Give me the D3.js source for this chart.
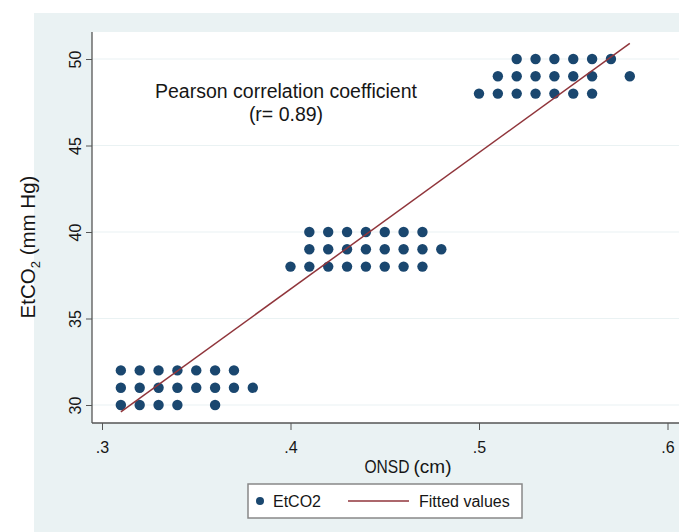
<!DOCTYPE html>
<html>
<head>
<meta charset="utf-8">
<script src="https://cdn.jsdelivr.net/npm/d3@7"></script>
<style>
  body { margin: 0; background: #fff; }
  svg { display: block; font-family: 'Liberation Sans', Arial, sans-serif; }
</style>
</head>
<body>
<svg id="chart"></svg>
<script>
// data
const etco2Rows = [30, 31, 32, 38, 39, 40, 48, 49, 50];
const onsdByRow = [
  [0.31, 0.32, 0.33, 0.34, 0.36],
  [0.31, 0.32, 0.33, 0.34, 0.35, 0.36, 0.37, 0.38],
  [0.31, 0.32, 0.33, 0.34, 0.35, 0.36, 0.37],
  [0.40, 0.41, 0.42, 0.43, 0.44, 0.45, 0.46, 0.47],
  [0.41, 0.42, 0.43, 0.44, 0.45, 0.46, 0.47, 0.48],
  [0.41, 0.42, 0.43, 0.44, 0.45, 0.46, 0.47],
  [0.50, 0.51, 0.52, 0.53, 0.54, 0.55, 0.56],
  [0.51, 0.52, 0.53, 0.54, 0.55, 0.56, 0.58],
  [0.52, 0.53, 0.54, 0.55, 0.56, 0.57]
];
const fitOnsd = [0.31, 0.58];
const fitEtco2 = [29.6, 50.9];
const xTicks = [0.3, 0.4, 0.5, 0.6];
const yTicks = [30, 35, 40, 45, 50];

let width = 679;
let height = 532;
const navy = '#1a476f';
const maroon = '#90353b';
const bg = '#eaf2f3';
const ink = '#161616';

// plot box
let plotLeft = 92, plotRight = 679, plotTop = 32, plotBottom = 423;

const svg = d3.select('#chart').attr('width', width).attr('height', height);

let points = [];
etco2Rows.forEach((y, i) => {
  onsdByRow[i].forEach(x => points.push({ x: x, y: y }));
});

const xScale = d3.scaleLinear().domain([0.3, 0.6]).range([102, 667.5]);
const yScale = d3.scaleLinear().domain([30, 50]).range([405, 59]);

// backgrounds
svg.append('rect').attr('x', 34).attr('y', 13).attr('width', width - 34).attr('height', height - 13).attr('fill', bg);
svg.append('rect').attr('x', plotLeft).attr('y', plotTop)
  .attr('width', plotRight - plotLeft).attr('height', plotBottom - plotTop).attr('fill', '#fff');

// gridlines
svg.append('g').selectAll('line').data(yTicks).enter().append('line')
  .attr('x1', plotLeft).attr('x2', plotRight)
  .attr('y1', d => yScale(d)).attr('y2', d => yScale(d))
  .attr('stroke', bg).attr('stroke-width', 1.2);

// axes
const xAxis = d3.axisBottom(xScale).tickValues(xTicks).tickSize(7)
  .tickFormat(d => d3.format('.1f')(d).replace(/^0/, ''));
const gx = svg.append('g').attr('transform', 'translate(0,' + plotBottom + ')').call(xAxis);
gx.select('.domain').remove();
gx.selectAll('line').attr('stroke', '#555');
gx.selectAll('text').attr('font-size', 16).attr('fill', ink).attr('dy', 0).attr('y', 30);

const yAxis = d3.axisLeft(yScale).tickValues(yTicks).tickSize(6).tickFormat(d3.format('d'));
const gy = svg.append('g').attr('transform', 'translate(' + plotLeft + ',0)').call(yAxis);
gy.select('.domain').remove();
gy.selectAll('line').attr('stroke', '#555');
gy.selectAll('text').attr('font-size', 16).attr('fill', ink)
  .attr('x', 0).attr('y', 0).attr('dy', 0)
  .attr('text-anchor', 'middle')
  .attr('transform', 'translate(-11,0) rotate(-90)');
gy.attr('font-family', null);
gx.attr('font-family', null);

svg.append('line').attr('x1', plotLeft).attr('x2', plotLeft).attr('y1', plotTop).attr('y2', plotBottom)
  .attr('stroke', '#555').attr('stroke-width', 1.3);
svg.append('line').attr('x1', plotLeft).attr('x2', plotRight).attr('y1', plotBottom).attr('y2', plotBottom)
  .attr('stroke', '#555').attr('stroke-width', 1.3);

// dots
svg.append('g').selectAll('circle').data(points).enter().append('circle')
  .attr('cx', d => xScale(d.x)).attr('cy', d => yScale(d.y))
  .attr('r', 5.2).attr('fill', navy);

// fitted line
const fitLine = d3.line().x(d => xScale(d[0])).y(d => yScale(d[1]));
svg.append('path').datum(d3.zip(fitOnsd, fitEtco2)).attr('d', fitLine)
  .attr('fill', 'none').attr('stroke', maroon).attr('stroke-width', 1.5);

// annotation
const note = svg.append('text').attr('text-anchor', 'middle').attr('font-size', 19.5).attr('fill', ink);
note.append('tspan').attr('x', 286).attr('y', 98).text('Pearson correlation coefficient');
note.append('tspan').attr('x', 286).attr('y', 121).text('(r= 0.89)');

// axis titles
const xt = svg.append('text').attr('x', 408).attr('y', 473).attr('text-anchor', 'middle').attr('fill', ink);
xt.append('tspan').attr('font-size', 18).attr('textLength', 45).attr('lengthAdjust', 'spacingAndGlyphs').text('ONSD');
xt.append('tspan').attr('font-size', 19).attr('dx', 4).text('(cm)');

const yt = svg.append('text').attr('transform', 'translate(35,247) rotate(-90)')
  .attr('text-anchor', 'middle').attr('font-size', 20.5).attr('fill', ink);
yt.append('tspan').text('EtCO');
yt.append('tspan').attr('font-size', 13).attr('dy', 5).text('2');
yt.append('tspan').attr('dy', -5).text(' (mm Hg)');

// legend
const legend = svg.append('g');
legend.append('rect').attr('x', 248).attr('y', 484).attr('width', 274).attr('height', 34)
  .attr('fill', '#fff').attr('stroke', '#888').attr('stroke-width', 1.5);
legend.append('circle').attr('cx', 260).attr('cy', 501).attr('r', 4).attr('fill', navy);
legend.append('text').attr('x', 273).attr('y', 507).attr('font-size', 16).attr('fill', ink).text('EtCO2');
legend.append('line').attr('x1', 348).attr('x2', 409).attr('y1', 501).attr('y2', 501)
  .attr('stroke', maroon).attr('stroke-width', 1.5);
legend.append('text').attr('x', 419).attr('y', 507).attr('font-size', 16).attr('fill', ink).text('Fitted values');
</script>
</body>
</html>
